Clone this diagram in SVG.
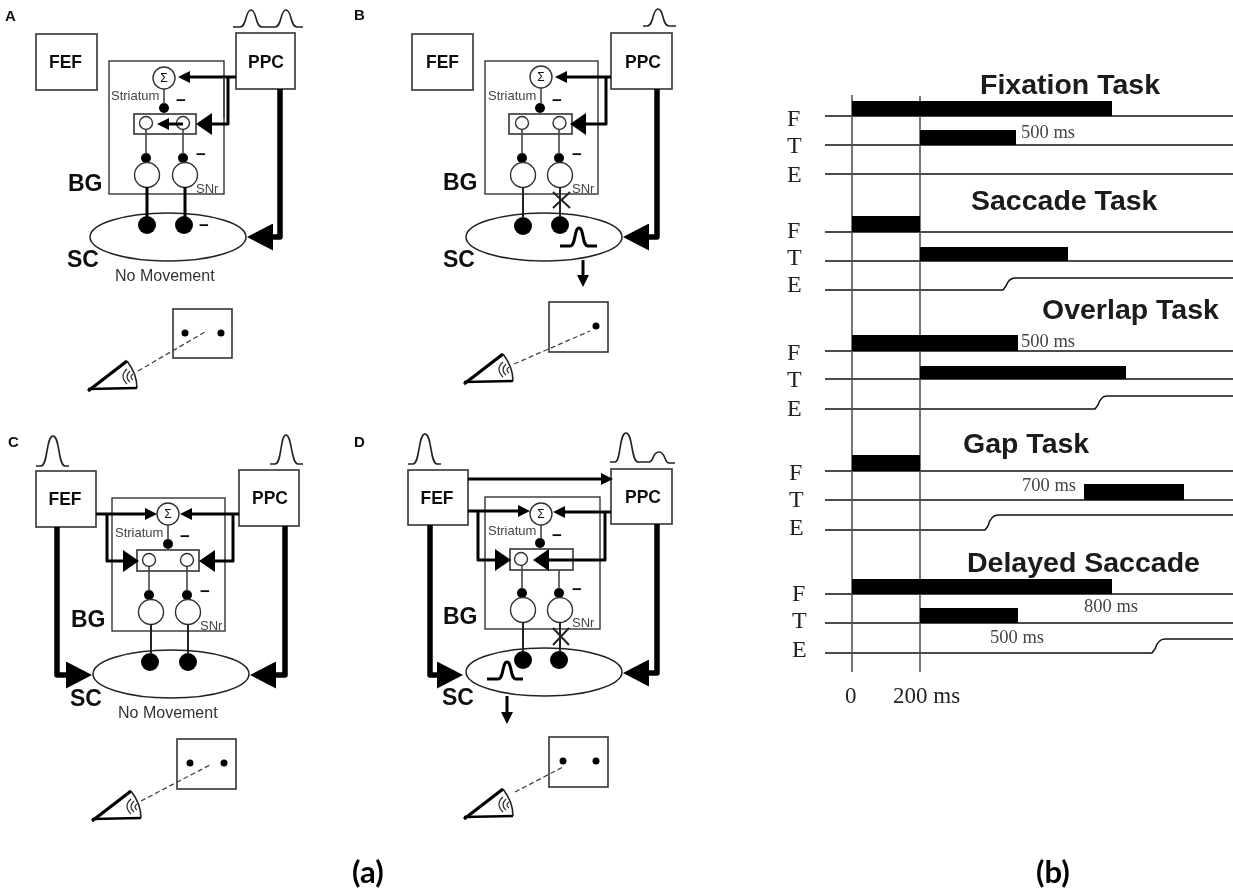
<svg xmlns="http://www.w3.org/2000/svg" width="1233" height="892" viewBox="0 0 1233 892">
<style>
text{font-family:"Liberation Sans",Arial,sans-serif;fill:#111}
.box{fill:#fff;stroke:#333;stroke-width:1.6}
.bg{fill:none;stroke:#333;stroke-width:1.4}
.ov{fill:none;stroke:#222;stroke-width:1.5}
.wc{fill:#fff;stroke:#333;stroke-width:1.4}
.dot{fill:#000}
.k{fill:none;stroke:#000;stroke-linejoin:round}
.w6{stroke-width:5.5}.w3{stroke-width:3}.w2{stroke-width:2;stroke:#222}.w1{stroke-width:1.5;stroke:#333}
.g{fill:none;stroke:#444;stroke-width:1.6}
.pulse{fill:none;stroke:#222;stroke-width:1.6}
.pulseT{fill:none;stroke:#000;stroke-width:3}
.dash{fill:none;stroke:#444;stroke-width:1.3;stroke-dasharray:5 3}
.big{font-weight:bold;font-size:23px}
.nm{font-weight:bold;font-size:17.5px;text-anchor:middle}
.sm{font-size:13px;fill:#444}
.mv{font-size:16px;fill:#333}
.pl{font-weight:bold;font-size:15px}
.mi{font-weight:bold;font-size:17px;text-anchor:middle}
.sig{font-size:12px;text-anchor:middle}
.h{fill:none;stroke:#111;stroke-width:1.5}
.v{fill:none;stroke:#555;stroke-width:1.6}
.bar{fill:#000}
.ttl{font-weight:bold;font-size:28.500px;fill:#1a1a1a}
.fte{font-family:"Liberation Serif",serif;font-size:24px;fill:#222}
.ms{font-family:"Liberation Serif",serif;font-size:18.500px;fill:#444}
.ax{font-family:"Liberation Serif",serif;font-size:23px;fill:#222}
.cap{font-family:Lato,sans-serif;font-weight:bold;font-size:31px;fill:#000}
</style>
<defs>
<filter id="soft" x="0" y="0" width="100%" height="100%"><feGaussianBlur stdDeviation="0.45"/></filter>
<marker id="hb" markerUnits="userSpaceOnUse" viewBox="0 0 26 27" markerWidth="26" markerHeight="27" refX="14" refY="13.5" orient="auto"><polygon points="0,0 26,13.5 0,27" fill="#000"/></marker>
<marker id="hm" markerUnits="userSpaceOnUse" viewBox="0 0 16 22" markerWidth="16" markerHeight="22" refX="8" refY="11" orient="auto"><polygon points="0,0 16,11 0,22" fill="#000"/></marker>
<marker id="hs" markerUnits="userSpaceOnUse" viewBox="0 0 12 12" markerWidth="12" markerHeight="12" refX="6" refY="6" orient="auto"><polygon points="0,0 12,6 0,12" fill="#000"/></marker>
<g id="eye">
<path d="M88 391L127 361" fill="none" stroke="#000" stroke-width="3.200"/>
<path d="M88 389L137 388" fill="none" stroke="#000" stroke-width="2.400"/>
<path d="M127 361Q137 374 137 388" fill="none" stroke="#222" stroke-width="1.600"/>
<path d="M127 369Q119 376 127 384M130 371Q124 377 130 382M133 374Q129 377 133 380" fill="none" stroke="#333" stroke-width="1.300"/>
</g>
</defs>
<rect width="1233" height="892" fill="#fff"/>
<g filter="url(#soft)">

<g id="panel-a-nodes">
<text class="pl" x="5" y="21">A</text>
<g id="a-fef"><rect class="box" x="36" y="34" width="61" height="56"/><text class="nm" x="65.500" y="68">FEF</text></g>
<g id="a-ppc"><rect class="box" x="236" y="33" width="59" height="56"/><text class="nm" x="266" y="68">PPC</text><path class="pulse" d="M233 27H240C247 27 245 10 251 10S255 27 262 27H275C282 27 280 10 286 10S290 27 297 27H303"/></g>
<g id="a-bg"><rect class="bg" x="109" y="61" width="115" height="133"/><text class="big" x="68" y="191">BG</text><text class="sm" x="111" y="100">Striatum</text><text class="sm" x="196" y="193">SNr</text></g>
<g id="a-sum"><circle class="wc" cx="164" cy="78" r="11"/><text class="sig" x="164" y="82">Σ</text><text class="mi" x="181" y="106">−</text></g>
<g id="a-str"><rect class="box" x="134" y="114" width="62" height="20"/><circle class="wc" cx="146" cy="123" r="6.500"/><circle class="wc" cx="183" cy="123" r="6.500"/><circle class="dot" cx="164" cy="108" r="5"/></g>
<g id="a-snr"><circle class="dot" cx="146" cy="158" r="5"/><circle class="dot" cx="183" cy="158" r="5"/><circle class="wc" cx="147" cy="175" r="12.500"/><circle class="wc" cx="185" cy="175" r="12.500"/><text class="mi" x="201" y="160">−</text></g>
<g id="a-sc"><ellipse class="ov" cx="168" cy="237" rx="78" ry="24"/><circle class="dot" cx="147" cy="225" r="9"/><circle class="dot" cx="184" cy="225" r="9"/><text class="mi" x="204" y="231">−</text><text class="big" x="67" y="267">SC</text><text class="mv" x="115" y="281">No Movement</text></g>
<g id="a-stim"><rect class="box" x="173" y="309" width="59" height="49"/><circle class="dot" cx="185" cy="333" r="3.500"/><circle class="dot" cx="221" cy="333" r="3.500"/><path class="dash" d="M138 371L205 332"/><use href="#eye"/></g>
</g>

<g id="panel-b-nodes">
<text class="pl" x="354" y="20">B</text>
<g id="b-fef"><rect class="box" x="412" y="34" width="61" height="56"/><text class="nm" x="442.500" y="68">FEF</text></g>
<g id="b-ppc"><rect class="box" x="611" y="33" width="61" height="56"/><text class="nm" x="643" y="68">PPC</text><path class="pulse" d="M643 26H647C654 26 652 9 658 9S662 26 669 26H676"/></g>
<g id="b-bg"><rect class="bg" x="485" y="61" width="113" height="133"/><text class="big" x="443" y="190">BG</text><text class="sm" x="488" y="100">Striatum</text><text class="sm" x="572" y="193">SNr</text></g>
<g id="b-sum"><circle class="wc" cx="541" cy="77" r="11"/><text class="sig" x="541" y="81">Σ</text><text class="mi" x="557" y="106">−</text></g>
<g id="b-str"><rect class="box" x="509" y="114" width="63" height="20"/><circle class="wc" cx="522" cy="123" r="6.500"/><circle class="wc" cx="559.500" cy="123" r="6.500"/><circle class="dot" cx="540" cy="108" r="5"/></g>
<g id="b-snr"><circle class="dot" cx="522" cy="158" r="5"/><circle class="dot" cx="559" cy="158" r="5"/><circle class="wc" cx="523" cy="175" r="12.500"/><circle class="wc" cx="560" cy="175" r="12.500"/><text class="mi" x="577" y="160">−</text></g>
<g id="b-sc"><ellipse class="ov" cx="544" cy="237" rx="78" ry="24"/><circle class="dot" cx="523" cy="226" r="9"/><circle class="dot" cx="560" cy="225" r="9"/><path class="pulseT" d="M560 246H570C576 246 574 228 579 228S582 246 588 246H597"/><text class="big" x="443" y="267">SC</text></g>
<g id="b-stim"><rect class="box" x="549" y="302" width="59" height="50"/><circle class="dot" cx="596" cy="326" r="3.500"/><path class="dash" d="M514 364L590 331"/><use href="#eye" transform="translate(376 -7)"/></g>
</g>

<g id="panel-c-nodes">
<text class="pl" x="8" y="447">C</text>
<g id="c-fef"><rect class="box" x="36" y="471" width="60" height="56"/><text class="nm" x="65" y="505">FEF</text><path class="pulse" d="M36 466H41C48 466 46 436 53 436S58 466 65 466H69"/></g>
<g id="c-ppc"><rect class="box" x="239" y="470" width="60" height="56"/><text class="nm" x="270" y="504">PPC</text><path class="pulse" d="M270 464H275C282 464 280 435 286 435S291 464 298 464H303"/></g>
<g id="c-bg"><rect class="bg" x="112" y="498" width="113" height="133"/><text class="big" x="71" y="627">BG</text><text class="sm" x="115" y="537">Striatum</text><text class="sm" x="200" y="630">SNr</text></g>
<g id="c-sum"><circle class="wc" cx="168" cy="514" r="11"/><text class="sig" x="168" y="518">Σ</text><text class="mi" x="185" y="542">−</text></g>
<g id="c-str"><rect class="box" x="137" y="550" width="62" height="21"/><circle class="wc" cx="149" cy="560" r="6.500"/><circle class="wc" cx="187" cy="560" r="6.500"/><circle class="dot" cx="168" cy="544" r="5"/></g>
<g id="c-snr"><circle class="dot" cx="149" cy="595" r="5"/><circle class="dot" cx="187" cy="595" r="5"/><circle class="wc" cx="151" cy="612" r="12.500"/><circle class="wc" cx="188" cy="612" r="12.500"/><text class="mi" x="205" y="597">−</text></g>
<g id="c-sc"><ellipse class="ov" cx="171" cy="674" rx="78" ry="24"/><circle class="dot" cx="150" cy="662" r="9"/><circle class="dot" cx="188" cy="662" r="9"/><text class="big" x="70" y="706">SC</text><text class="mv" x="118" y="718">No Movement</text></g>
<g id="c-stim"><rect class="box" x="177" y="739" width="59" height="50"/><circle class="dot" cx="190" cy="763" r="3.500"/><circle class="dot" cx="224" cy="763" r="3.500"/><path class="dash" d="M141 801L210 765"/><use href="#eye" transform="translate(4 430)"/></g>
</g>

<g id="panel-d-nodes">
<text class="pl" x="354" y="447">D</text>
<g id="d-fef"><rect class="box" x="408" y="470" width="60" height="55"/><text class="nm" x="437" y="504">FEF</text><path class="pulse" d="M408 464H413C420 464 418 434 425 434S430 464 437 464H441"/></g>
<g id="d-ppc"><rect class="box" x="611" y="469" width="61" height="55"/><text class="nm" x="643" y="503">PPC</text><path class="pulse" d="M610 462H615C621 462 619 433 626 433S631 462 638 462H649C654 462 652 452 659 452S664 463 669 463H675"/></g>
<g id="d-bg"><rect class="bg" x="485" y="497" width="115" height="132"/><text class="big" x="443" y="624">BG</text><text class="sm" x="488" y="535">Striatum</text><text class="sm" x="572" y="627">SNr</text></g>
<g id="d-sum"><circle class="wc" cx="541" cy="514" r="11"/><text class="sig" x="541" y="518">Σ</text><text class="mi" x="557" y="541">−</text></g>
<g id="d-str"><rect class="box" x="510" y="549" width="63" height="21"/><circle class="wc" cx="521" cy="559" r="6.500"/><circle class="dot" cx="540" cy="543" r="5"/></g>
<g id="d-snr"><circle class="dot" cx="522" cy="593" r="5"/><circle class="dot" cx="559" cy="593" r="5"/><circle class="wc" cx="523" cy="610" r="12.500"/><circle class="wc" cx="560" cy="610" r="12.500"/><text class="mi" x="577" y="595">−</text></g>
<g id="d-sc"><ellipse class="ov" cx="544" cy="672" rx="78" ry="24"/><circle class="dot" cx="523" cy="660" r="9"/><circle class="dot" cx="559" cy="660" r="9"/><path class="pulseT" d="M487 679H498C504 679 502 662 507 662S510 679 516 679H523"/><text class="big" x="442" y="705">SC</text></g>
<g id="d-stim"><rect class="box" x="549" y="737" width="59" height="50"/><circle class="dot" cx="563" cy="761" r="3.500"/><circle class="dot" cx="596" cy="761" r="3.500"/><path class="dash" d="M515 792L563 767"/><use href="#eye" transform="translate(376 428)"/></g>
</g>

<g id="connectors">
<path class="k w6" d="M280 89V237H259" marker-end="url(#hb)"/>
<path class="k w3" d="M236 77H184" marker-end="url(#hs)"/>
<path class="k w3" d="M228 77V124H204" marker-end="url(#hm)"/>
<path class="g" d="M224 77V118"/>
<path class="k w3" d="M183 124H163" marker-end="url(#hs)"/>
<path class="g" d="M164 89V104M146 130V154M183 130V154"/>
<path class="k w3" d="M147 187V217M185 187V217"/>

<path class="k w6" d="M657 89V237H635" marker-end="url(#hb)"/>
<path class="k w3" d="M611 77H561" marker-end="url(#hs)"/>
<path class="k w3" d="M606 77V124H578" marker-end="url(#hm)"/>
<path class="g" d="M541 88V104M522 130V154M559 130V154"/>
<path class="k w2" d="M523 187V218M560 187V217"/>
<path class="k w2" d="M553 192L570 208M570 192L553 208"/>
<path class="k w3" d="M583 260V281" marker-end="url(#hs)"/>

<path class="k w6" d="M57 527V675H80" marker-end="url(#hb)"/>
<path class="k w6" d="M285 526V675H262" marker-end="url(#hb)"/>
<path class="k w3" d="M96 514H151" marker-end="url(#hs)"/>
<path class="k w3" d="M239 514H186" marker-end="url(#hs)"/>
<path class="k w3" d="M107 514V561H131" marker-end="url(#hm)"/>
<path class="k w3" d="M233 514V561H207" marker-end="url(#hm)"/>
<path class="g" d="M168 525V540M149 567V591M187 567V591"/>
<path class="k w2" d="M151 624V654M188 624V654"/>

<path class="k w3" d="M468 479H607" marker-end="url(#hs)"/>
<path class="k w6" d="M430 525V675H451" marker-end="url(#hb)"/>
<path class="k w6" d="M657 524V673H635" marker-end="url(#hb)"/>
<path class="k w3" d="M468 511H524" marker-end="url(#hs)"/>
<path class="k w3" d="M611 512H559" marker-end="url(#hs)"/>
<path class="k w3" d="M478 511V560H503" marker-end="url(#hm)"/>
<path class="k w3" d="M605 512V560H541" marker-end="url(#hm)"/>
<path class="g" d="M541 525V539M522 566V589M559 570V589"/>
<path class="k w2" d="M523 622V652M560 622V652"/>
<path class="k w2" d="M553 628L569 645M569 628L553 645"/>
<path class="k w3" d="M507 696V718" marker-end="url(#hs)"/>
</g>

<g id="timing-chart">
<path class="h" d="M825 116H1233M825 145H1233M825 174H1233M825 232H1233M825 261H1233M825 290H1003L1006 286Q1009 278 1015 278H1233M825 351H1233M825 379H1233M825 409H1095L1098 405Q1101 396 1107 396H1233M825 471H1233M825 500H1233M825 530H985L988 526Q991 515 998 515H1233M825 594H1233M825 623H1233M825 653H1152L1155 649Q1158 639 1165 639H1233"/>
<path class="v" d="M852 95V672M920 96V672"/>
<g id="bars">
<rect class="bar" x="852" y="101" width="260" height="15"/><rect class="bar" x="920" y="130" width="96" height="15"/>
<rect class="bar" x="852" y="216" width="68" height="16"/><rect class="bar" x="920" y="247" width="148" height="14"/>
<rect class="bar" x="852" y="335" width="166" height="16"/><rect class="bar" x="920" y="366" width="206" height="13"/>
<rect class="bar" x="852" y="455" width="68" height="16"/><rect class="bar" x="1084" y="484" width="100" height="16"/>
<rect class="bar" x="852" y="579" width="260" height="15"/><rect class="bar" x="920" y="608" width="98" height="15"/>
</g>
<text class="ttl" x="980" y="94">Fixation Task</text>
<text class="ttl" x="971" y="210">Saccade Task</text>
<text class="ttl" x="1042" y="319">Overlap Task</text>
<text class="ttl" x="963" y="453">Gap Task</text>
<text class="ttl" x="967" y="572">Delayed Saccade</text>
<text class="fte" x="787" y="126">F</text><text class="fte" x="787" y="153">T</text><text class="fte" x="787" y="182">E</text>
<text class="fte" x="787" y="238">F</text><text class="fte" x="787" y="265">T</text><text class="fte" x="787" y="292">E</text>
<text class="fte" x="787" y="360">F</text><text class="fte" x="787" y="387">T</text><text class="fte" x="787" y="416">E</text>
<text class="fte" x="789" y="480">F</text><text class="fte" x="789" y="507">T</text><text class="fte" x="789" y="535">E</text>
<text class="fte" x="792" y="601">F</text><text class="fte" x="792" y="628">T</text><text class="fte" x="792" y="657">E</text>
<text class="ms" x="1021" y="138">500 ms</text>
<text class="ms" x="1021" y="347">500 ms</text>
<text class="ms" x="1022" y="491">700 ms</text>
<text class="ms" x="1084" y="612">800 ms</text>
<text class="ms" x="990" y="643">500 ms</text>
<text class="ax" x="845" y="703">0</text>
<text class="ax" x="893" y="703">200 ms</text>
</g>
<text class="cap" x="352" y="883">(a)</text>
<text class="cap" x="1036" y="883">(b)</text>
</g>
</svg>
